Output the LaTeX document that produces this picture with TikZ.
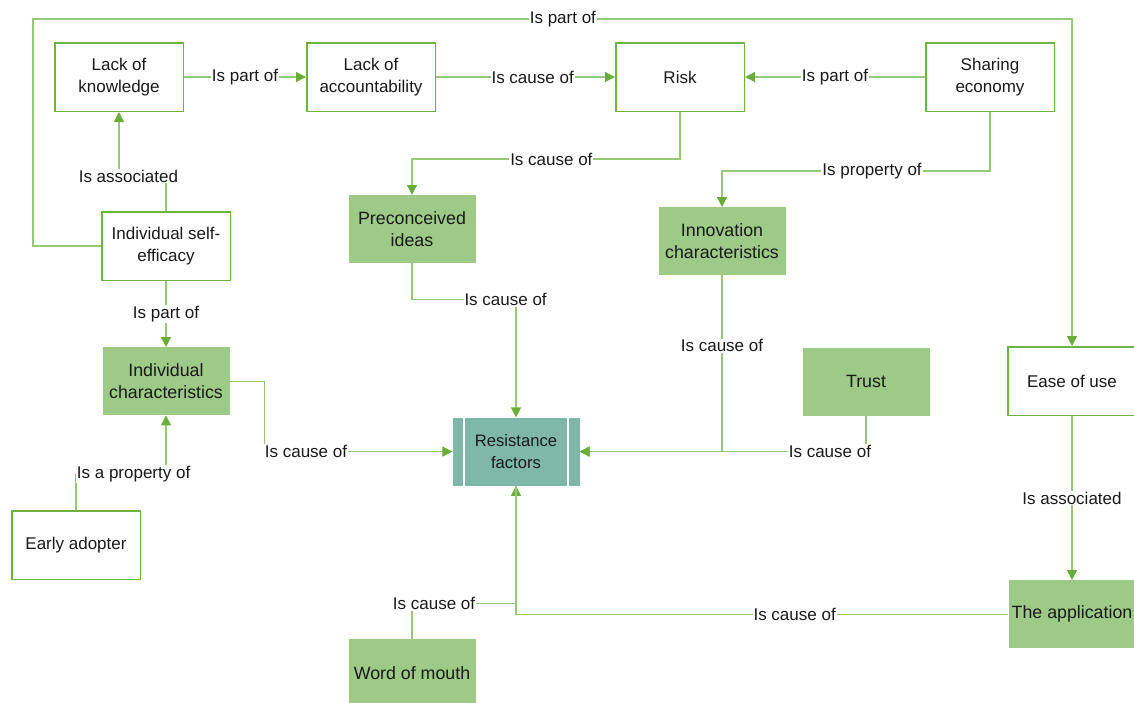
\documentclass[tikz,border=0pt]{standalone}
\usepackage{fontspec}
\setmainfont{Liberation Sans}
\usetikzlibrary{arrows.meta}
\usetikzlibrary{positioning}
\definecolor{boxgreen}{HTML}{6DB33F}
\definecolor{linegreen}{HTML}{96C878}
\definecolor{tipgreen}{HTML}{6AAE3A}
\definecolor{fillgreen}{HTML}{9DCA86}
\definecolor{teal}{HTML}{7FB8A9}
\definecolor{inkblack}{HTML}{1A1A1A}
\tikzstyle{concept} = [rectangle, minimum width=128.5pt, minimum height=68.5pt, align=center, draw=boxgreen, line width=1.5pt, fill=white, text=inkblack, font=\fontsize{17}{22}\selectfont]
\tikzstyle{factor} = [rectangle, minimum width=127pt, minimum height=68pt, inner sep=1pt, align=center, fill=fillgreen, text=inkblack, font=\fontsize{17.8}{22}\selectfont]
\tikzstyle{resist} = [rectangle, minimum width=127pt, minimum height=68pt, align=center, fill=teal, text=inkblack, font=\fontsize{16.6}{22}\selectfont]
\tikzstyle{rel} = [fill=white, inner sep=1pt, text=inkblack, font=\fontsize{17}{20}\selectfont]
\tikzstyle{arrow} = [line width=1.2pt, draw=linegreen, -{Triangle[length=10pt, width=10pt, color=tipgreen]}]
\tikzstyle{link} = [line width=1.2pt, draw=linegreen]

\begin{document}
\begin{tikzpicture}[x=1pt, y=-1pt]
        \useasboundingbox (0,0) rectangle (1134,702);
        %top row
        \node (LoK) [concept] at (119,77) {Lack of\\knowledge};
        \node (LoA) [concept, right=122pt of LoK] {Lack of\\accountability};
        \node (Risk) [concept, right=179pt of LoA] {Risk};
        \node (Sharing) [concept, right=180pt of Risk] {Sharing\\economy};
        %left column
        \node (SelfEff) [concept, below=99pt of LoK, xshift=47pt] {Individual self-\\efficacy};
        \node (IndChar) [factor, below=66pt of SelfEff] {Individual\\characteristics};
        \node (Early) [concept, below=95pt of IndChar, xshift=-90pt] {Early adopter};
        %middle
        \node (Preconceived) [factor, below=83pt of LoA, xshift=41pt] {Preconceived\\ideas};
        \node (Innovation) [factor, below=95pt of Risk, xshift=42pt] {Innovation\\characteristics};
        \node (Resistance) [resist, below=154pt of Preconceived, xshift=104pt] {Resistance\\factors};
        \draw [white, line width=2pt] ([xshift=12pt]Resistance.north west) -- ([xshift=12pt]Resistance.south west);
        \draw [white, line width=2pt] ([xshift=-12pt]Resistance.north east) -- ([xshift=-12pt]Resistance.south east);
        \node (Trust) [factor, below=72pt of Innovation, xshift=144pt] {Trust};
        \node (WoM) [factor, below=153pt of Resistance, xshift=-104pt] {Word of mouth};
        %right column
        \node (Ease) [concept, below=234pt of Sharing, xshift=82pt] {Ease of use};
        \node (App) [factor, below=164pt of Ease] {The application};
        %arrows
        \draw [arrow] (LoK) -- node[rel] {Is part of} (LoA);
        \draw [arrow] (LoA) -- node[rel, pos=0.54] {Is cause of} (Risk);
        \draw [arrow] (Sharing) -- node[rel] {Is part of} (Risk);
        \draw [arrow] (Risk.south) -- ++(0,47) -| node[rel, pos=0.24] {Is cause of} (Preconceived.north);
        \draw [arrow] (Sharing.south) -- ++(0,59) -| node[rel, pos=0.22] {Is property of} (Innovation.north);
        \draw [arrow] (SelfEff.north) -- ++(0,-35) -| node[rel, pos=0.4] {Is associated} (LoK.south);
        \draw [arrow] (SelfEff) -- node[rel] {Is part of} (IndChar);
        \draw [arrow] (SelfEff.west) -- ++(-68,0) -- ++(0,-227) -| node[rel, pos=0.255] {Is part of} (Ease.north);
        \draw [arrow] (Early.north) -- ++(0,-36) -| node[rel, pos=0.32] {Is a property of} (IndChar.south);
        \draw [arrow] (IndChar.east) -- ++(35,0) |- node[rel, pos=0.61] {Is cause of} (Resistance.west);
        \draw [arrow] (Preconceived.south) -- ++(0,36) -| node[rel, pos=0.45] {Is cause of} (Resistance.north);
        \draw [arrow] (Innovation.south) |- node[rel, pos=0.2] {Is cause of} (Resistance.east);
        \draw [arrow] (Trust.south) |- node[rel, pos=0.563] {Is cause of} (Resistance.east);
        \draw [arrow] (Ease) -- node[rel] {Is associated} (App);
        \draw [arrow] (App.west) -| node[rel, pos=0.217] {Is cause of} (Resistance.south);
        \draw [link] (WoM.north) -- ++(0,-35) -| node[rel, pos=0.106] {Is cause of} (Resistance.south);
    \end{tikzpicture}
\end{document}
